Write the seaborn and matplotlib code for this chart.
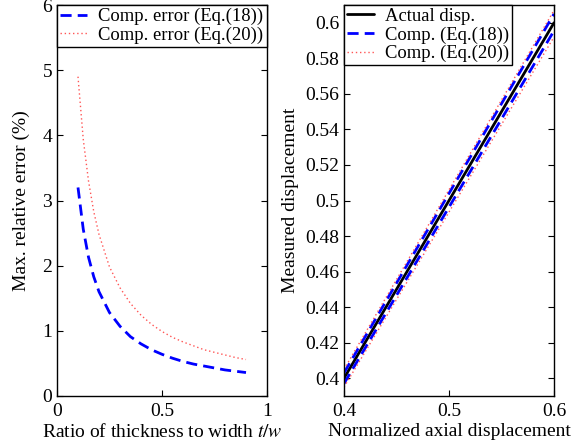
import matplotlib
matplotlib.use("Agg")
import matplotlib.pyplot as plt
import seaborn as sns
import pandas as pd
import numpy as np

# Left panel: max relative error vs ratio t/w
ratio = [0.10, 0.125, 0.15, 0.175, 0.20, 0.25, 0.30, 0.35, 0.40, 0.45, 0.50,
         0.55, 0.60, 0.65, 0.70, 0.75, 0.80, 0.85, 0.90]
err_eq18 = [3.20, 2.56, 2.13, 1.83, 1.60, 1.28, 1.07, 0.91, 0.80, 0.71, 0.64,
            0.58, 0.53, 0.49, 0.46, 0.43, 0.40, 0.38, 0.36]
err_eq20 = [4.90, 3.94, 3.30, 2.83, 2.48, 1.98, 1.66, 1.42, 1.24, 1.10, 0.99,
            0.90, 0.83, 0.77, 0.71, 0.67, 0.63, 0.59, 0.56]

# Right panel: measured vs normalized axial displacement
axial = [0.4, 0.6]
actual = [0.4, 0.6]
eq18_hi = [0.403, 0.605]
eq18_lo = [0.397, 0.5955]
eq20_hi = [0.405, 0.607]
eq20_lo = [0.395, 0.592]

left_xticks = [0, 0.5, 1]
left_xlabels = ["0", "0.5", "1"]
left_yticks = [0, 1, 2, 3, 4, 5, 6]
right_xticks = [0.4, 0.5, 0.6]
right_xlabels = ["0.4", "0.5", "0.6"]
right_yticks = [0.40, 0.42, 0.44, 0.46, 0.48, 0.50, 0.52, 0.54, 0.56, 0.58, 0.60]
right_ylabels = ["0.4", "0.42", "0.44", "0.46", "0.48", "0.5", "0.52", "0.54", "0.56", "0.58", "0.6"]

sns.set_style("ticks")
plt.rcParams.update({
    "font.family": ["Liberation Serif", "DejaVu Serif"],
    "mathtext.fontset": "stix",
    "font.size": 14,
    "legend.fontsize": 13.4,
    "xtick.direction": "in",
    "ytick.direction": "in",
    "xtick.top": True,
    "ytick.right": True,
    "xtick.major.size": 4,
    "ytick.major.size": 4,
    "xtick.major.pad": 5,
    "axes.linewidth": 1.0,
    "axes.edgecolor": "black",
    "xtick.color": "black",
    "ytick.color": "black",
    "text.color": "black",
    "axes.labelcolor": "black",
})

fig = plt.figure(figsize=(5.82, 4.47), dpi=100)
ax1 = fig.add_axes([57 / 582, 51 / 447, 210 / 582, 391 / 447])
ax2 = fig.add_axes([344 / 582, 51 / 447, 210 / 582, 391 / 447])

legend_kw = dict(loc="upper left", borderaxespad=0, fancybox=False, edgecolor="black",
                 framealpha=1, handlelength=1.45, borderpad=0.15, labelspacing=0.08,
                 handletextpad=0.6)

left = pd.DataFrame({"ratio": ratio, "eq18": err_eq18, "eq20": err_eq20})
sns.lineplot(data=left, x="ratio", y="eq18", ax=ax1, color="#0000ff", lw=2,
             label="Comp. error (Eq.(18))")
sns.lineplot(data=left, x="ratio", y="eq20", ax=ax1, color="#ff5555", lw=1,
             label="Comp. error (Eq.(20))")
ax1.lines[0].set_dashes([4, 2.2])
ax1.lines[1].set_dashes([1, 2])

ax1.set_xlim(0, 1)
ax1.set_ylim(0, 6)
ax1.set_xticks(left_xticks)
ax1.set_xticklabels(left_xlabels)
ax1.set_yticks(left_yticks)
ax1.set_xlabel("Ratio of thickness to width $t/w$", labelpad=2)
ax1.set_ylabel("Max. relative error (%)", labelpad=9)
leg1 = ax1.legend(bbox_to_anchor=(0, 1, 1, 0), mode="expand", **legend_kw)
leg1.get_frame().set_linewidth(1.0)

right = pd.DataFrame({"axial": axial, "actual": actual, "hi18": eq18_hi, "lo18": eq18_lo,
                      "hi20": eq20_hi, "lo20": eq20_lo})
sns.lineplot(data=right, x="axial", y="actual", ax=ax2, color="black", lw=2,
             label="Actual disp.")
sns.lineplot(data=right, x="axial", y="hi18", ax=ax2, color="#0000ff", lw=2,
             label="Comp. (Eq.(18))")
sns.lineplot(data=right, x="axial", y="hi20", ax=ax2, color="#ff5555", lw=1,
             label="Comp. (Eq.(20))")
sns.lineplot(data=right, x="axial", y="lo18", ax=ax2, color="#0000ff", lw=2)
sns.lineplot(data=right, x="axial", y="lo20", ax=ax2, color="#ff5555", lw=1)
for i in (1, 3):
    ax2.lines[i].set_dashes([4, 2.2])
for i in (2, 4):
    ax2.lines[i].set_dashes([1, 2])

ax2.set_xlim(0.4, 0.6)
ax2.set_ylim(0.39, 0.61)
ax2.set_xticks(right_xticks)
ax2.set_xticklabels(right_xlabels)
ax2.set_yticks(right_yticks)
ax2.set_yticklabels(right_ylabels)
ax2.set_xlabel("Normalized axial displacement", labelpad=2)
ax2.set_ylabel("Measured displacement", labelpad=4)
leg2 = ax2.legend(**legend_kw)
leg2.get_frame().set_linewidth(1.0)

for ax in (ax1, ax2):
    for s in ax.spines.values():
        s.set_visible(True)
        s.set_color("black")

fig.savefig("out.png", dpi=100)
